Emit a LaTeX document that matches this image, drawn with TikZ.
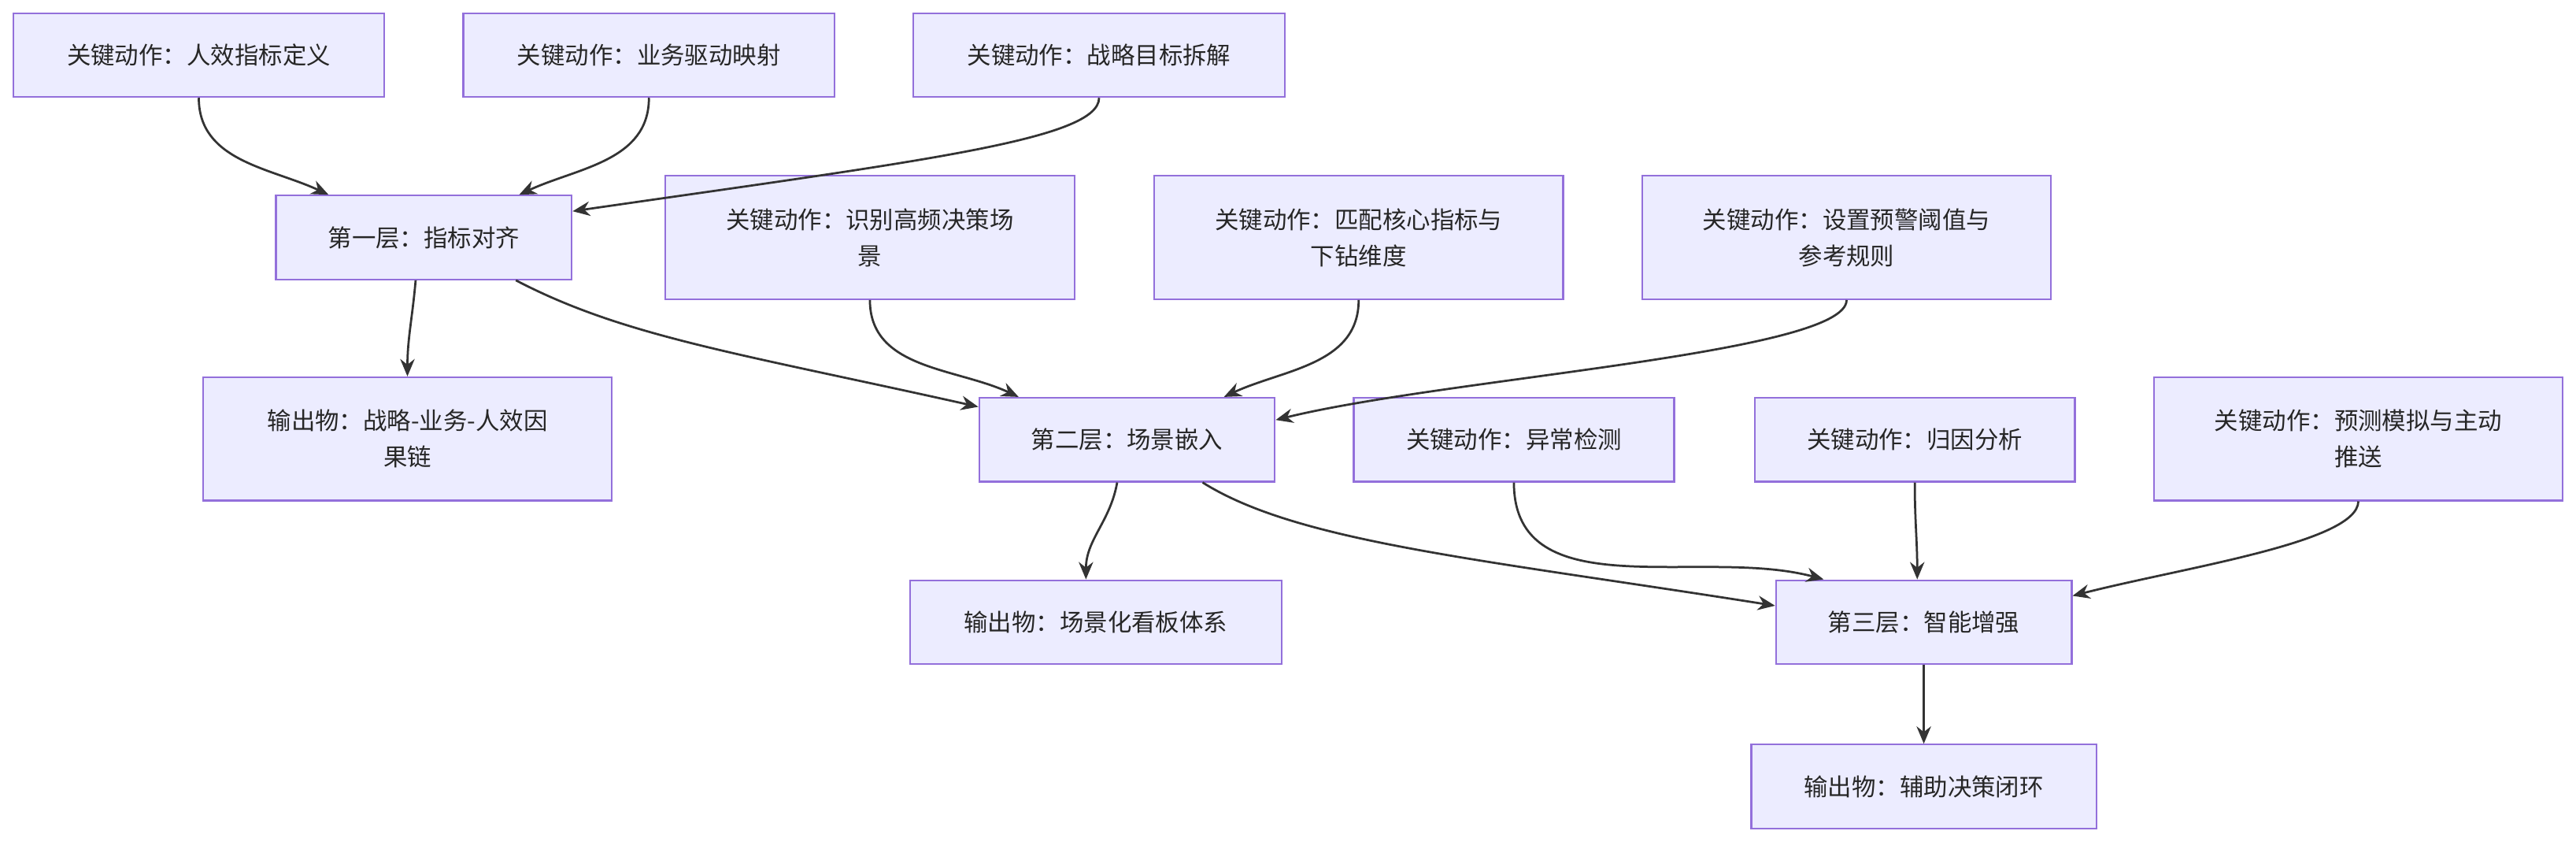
\documentclass[tikz,border=0pt]{standalone}
\usepackage{fontspec}
\setmainfont{Noto Sans CJK SC}
\usetikzlibrary{calc,arrows.meta}
\definecolor{nfill}{HTML}{ECECFF}
\definecolor{nline}{HTML}{9370DB}
\definecolor{eline}{HTML}{333333}
\begin{document}
\begin{tikzpicture}[x=0.02cm,y=-0.02cm,
 box/.style={draw=nline,fill=nfill,line width=0.6pt,inner sep=0pt,align=center,font=\fontsize{8.3}{12.5}\selectfont,text=black!85},
 s/.style={box,minimum width=#1*0.02cm,minimum height=51*0.02cm},
 t/.style={box,minimum width=#1*0.02cm,minimum height=75*0.02cm},
 e/.style={draw=eline,line width=0.75pt,-{Stealth[length=6pt,width=5pt]}}]
\useasboundingbox (0,0) rectangle (1568,512);
\node[s=226] (A1) at (121,33.5) {关键动作：人效指标定义};
\node[s=226] (A2) at (395,33.5) {关键动作：业务驱动映射};
\node[s=226] (A3) at (669,33.5) {关键动作：战略目标拆解};
\node[s=180] (L1) at (258,144.5) {第一层：指标对齐};
\node[t=249] (B1) at (529.5,144.5) {关键动作：识别高频决策场\\景};
\node[t=249] (B2) at (827,144.5) {关键动作：匹配核心指标与\\下钻维度};
\node[t=249] (B3) at (1124,144.5) {关键动作：设置预警阈值与\\参考规则};
\node[t=249] (O1) at (248,267) {输出物：战略-业务-人效因\\果链};
\node[s=180] (L2) at (686,267.5) {第二层：场景嵌入};
\node[s=195] (C1) at (921.5,267.5) {关键动作：异常检测};
\node[s=195] (C2) at (1165.5,267.5) {关键动作：归因分析};
\node[t=249] (C3) at (1435.5,267) {关键动作：预测模拟与主动\\推送};
\node[s=226] (O2) at (667,378.5) {输出物：场景化看板体系};
\node[s=180] (L3) at (1171,378.5) {第三层：智能增强};
\node[s=210] (O3) at (1171,478.5) {输出物：辅助决策闭环};
\draw[e] (A1.south) to[out=-90,in=155] ($(L1.north)+(-58,0)$);
\draw[e] (A2.south) to[out=-90,in=25] ($(L1.north)+(58,0)$);
\draw[e] (A3.south) .. controls (669,85) and (560,98) .. ($(L1.east)+(0,-16)$);
\draw[e] ($(L1.south)+(-5,0)$) to[out=-95,in=90] (O1.north);
\draw[e] ($(L1.south)+(56,0)$) .. controls (380,205) and (450,215) .. ($(L2.west)+(0,-20)$);
\draw[e] (B1.south) to[out=-90,in=155] ($(L2.north)+(-66,0)$);
\draw[e] (B2.south) to[out=-90,in=25] ($(L2.north)+(59,0)$);
\draw[e] (B3.south) .. controls (1124,215) and (880,230) .. ($(L2.east)+(0,-12)$);
\draw[e] ($(L2.south)+(-6,0)$) to[out=-100,in=90] ($(O2.north)+(-6,0)$);
\draw[e] ($(L2.south)+(46,0)$) .. controls (790,330) and (900,340) .. ($(L3.west)+(0,-10)$);
\draw[e] (C1.south) to[out=-90,in=165] ($(L3.north)+(-61,0)$);
\draw[e] (C2.south) to[out=-90,in=90] ($(L3.north)+(-4,0)$);
\draw[e] (C3.south) .. controls (1435,330) and (1330,345) .. ($(L3.east)+(0,-16)$);
\draw[e] (L3.south) -- (O3.north);
\end{tikzpicture}
\end{document}
